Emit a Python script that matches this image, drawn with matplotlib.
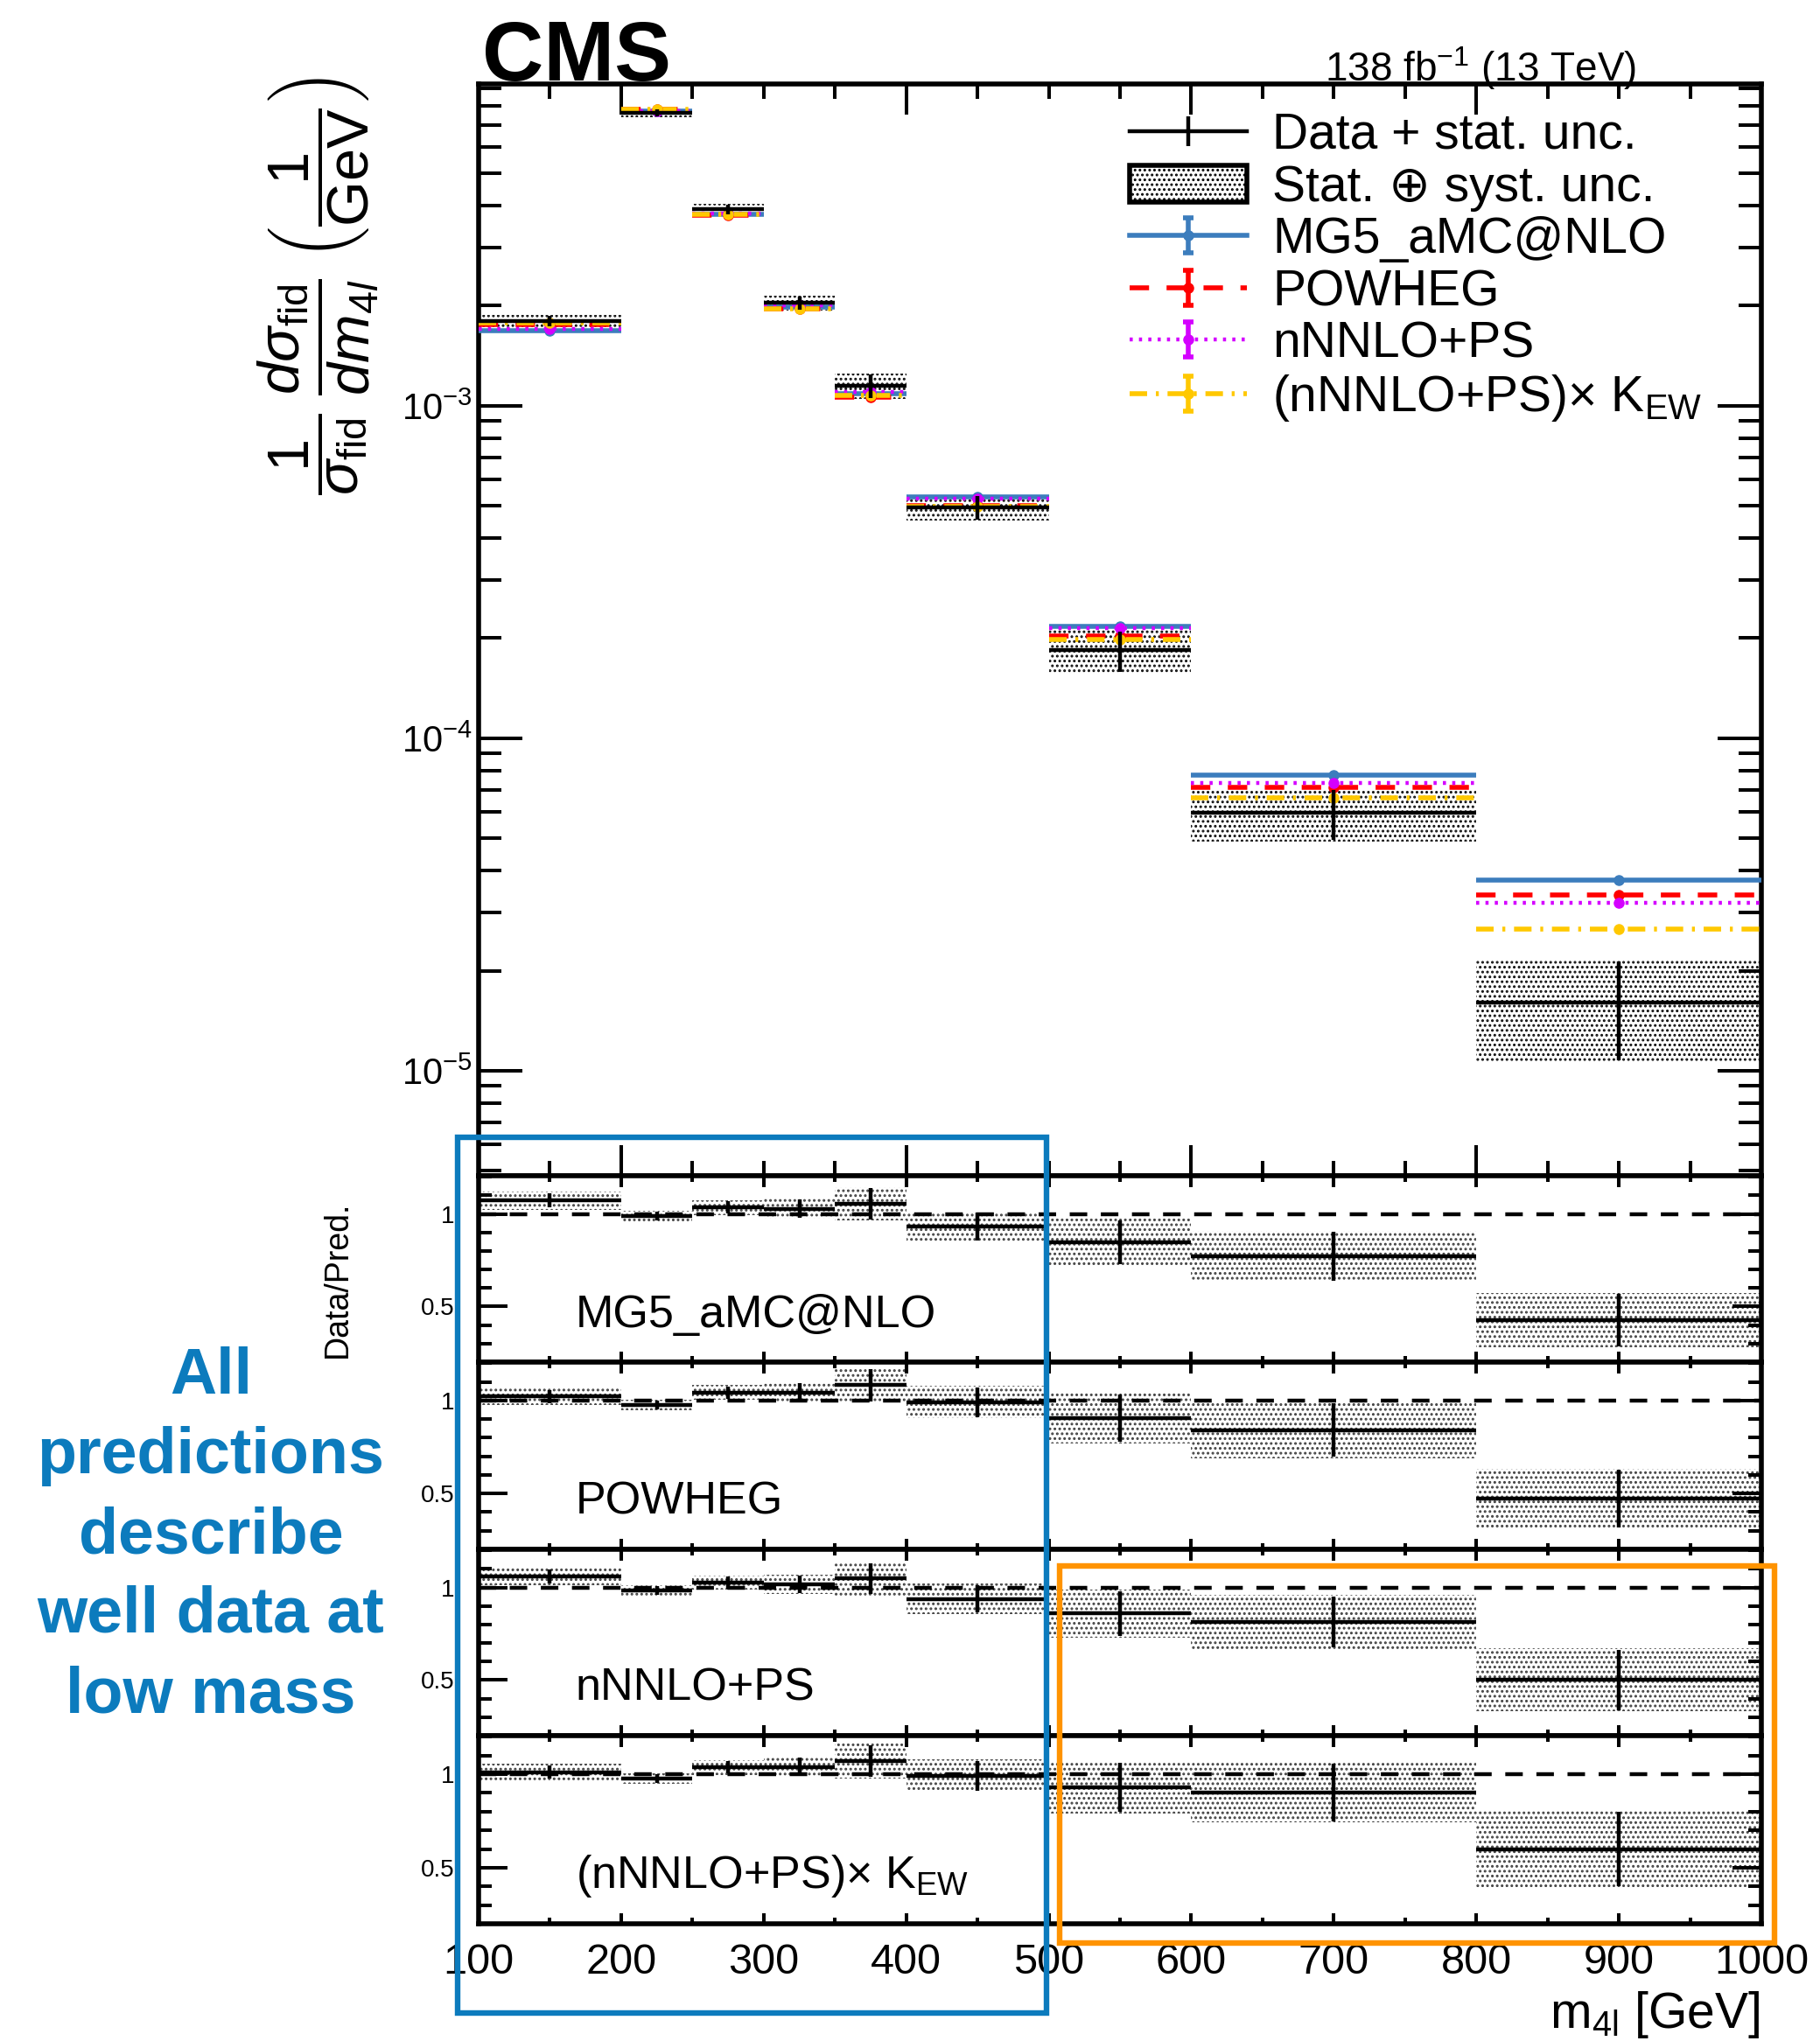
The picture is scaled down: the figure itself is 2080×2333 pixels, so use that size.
import numpy as np
import matplotlib
matplotlib.use('Agg')
import matplotlib.pyplot as plt
from matplotlib.lines import Line2D
from matplotlib.patches import Patch, Rectangle
from matplotlib.path import Path
import matplotlib.ticker as mt

plt.rcParams['font.family'] = ['Liberation Sans', 'DejaVu Sans']
plt.rcParams['mathtext.fontset'] = 'custom'
plt.rcParams['mathtext.rm'] = 'Liberation Sans'
plt.rcParams['mathtext.it'] = 'Liberation Sans:italic'
plt.rcParams['mathtext.bf'] = 'Liberation Sans:bold'
plt.rcParams['hatch.linewidth'] = 1.4

# ---------------- data ----------------
bin_edges = [100, 200, 250, 300, 350, 400, 500, 600, 800, 1000]
data_xs = [1.80e-3, 7.60e-3, 3.90e-3, 2.04e-3, 1.15e-3, 4.95e-4, 1.84e-4, 5.96e-5, 1.60e-5]
data_stat_rel = [0.035, 0.025, 0.032, 0.047, 0.080, 0.080, 0.140, 0.170, 0.330]
data_tot_rel = [0.045, 0.030, 0.038, 0.053, 0.087, 0.088, 0.150, 0.180, 0.340]

mg5_xs = [1.68e-3, 7.69e-3, 3.77e-3, 1.98e-3, 1.09e-3, 5.32e-4, 2.17e-4, 7.73e-5, 3.75e-5]
powheg_xs = [1.76e-3, 7.79e-3, 3.74e-3, 1.96e-3, 1.06e-3, 5.00e-4, 2.03e-4, 7.10e-5, 3.38e-5]
nnlo_xs = [1.70e-3, 7.72e-3, 3.80e-3, 2.01e-3, 1.10e-3, 5.27e-4, 2.14e-4, 7.32e-5, 3.20e-5]
nnlo_kew_xs = [1.78e-3, 7.78e-3, 3.76e-3, 1.96e-3, 1.075e-3, 4.99e-4, 1.98e-4, 6.60e-5, 2.67e-5]
pred_theo_rel = [0.02, 0.02, 0.02, 0.02, 0.02, 0.02, 0.02, 0.02, 0.02]

mg5_ratio = [1.072, 0.988, 1.034, 1.028, 1.055, 0.931, 0.848, 0.771, 0.427]
powheg_ratio = [1.021, 0.975, 1.042, 1.042, 1.083, 0.990, 0.906, 0.840, 0.473]
nnlo_ratio = [1.059, 0.985, 1.027, 1.017, 1.048, 0.939, 0.860, 0.814, 0.500]
nnlo_kew_ratio = [1.011, 0.977, 1.036, 1.039, 1.070, 0.992, 0.930, 0.903, 0.600]

pred_labels = ['MG5_aMC@NLO', 'POWHEG', 'nNNLO+PS', r'(nNNLO+PS)× K$_{\rm EW}$']
legend_labels = ['Data + stat. unc.', 'Stat. \u2295 syst. unc.'] + pred_labels
annotation_lines = ['All', 'predictions', 'describe', 'well data at', 'low mass']

# ---------------- styles ----------------
W, H = 2080, 2333
colors = ['#3c7dbd', '#ff0000', '#d400ff', '#ffc800']
styles = ['-', (0, (4, 3.6)), (0, (0.8, 1.6)), (0, (3.6, 1.8, 0.6, 1.8))]
lws = [4, 4, 3.2, 4]
blue_ann = '#0c7bbd'
orange_ann = '#ff9300'

fig = plt.figure(figsize=(W / 100, H / 100), dpi=100)

def fax(l, t, r, b):
    return fig.add_axes([l / W, 1 - b / H, (r - l) / W, (b - t) / H])

ax = fax(547, 96, 2013, 1344)
rtops = [1344, 1557, 1771, 1984, 2199]
rax = [fax(547, rtops[i], 2013, rtops[i + 1]) for i in range(4)]

lo = np.array(bin_edges[:-1], float)
hi = np.array(bin_edges[1:], float)
ctr = (lo + hi) / 2
hw = (hi - lo) / 2
data = np.array(data_xs)
srel = np.array(data_stat_rel)
trel = np.array(data_tot_rel)
preds = [np.array(mg5_xs), np.array(powheg_xs), np.array(nnlo_xs), np.array(nnlo_kew_xs)]
ratios = [np.array(mg5_ratio), np.array(powheg_ratio), np.array(nnlo_ratio), np.array(nnlo_kew_ratio)]
theo = np.array(pred_theo_rel)

# ---------------- main panel ----------------
ax.bar(ctr, 2 * data * trel, bottom=data * (1 - trel), width=hi - lo,
       facecolor='none', edgecolor='0.05', hatch='...', lw=0, zorder=1)
for vals, c, ls, lw in zip(preds, colors, styles, lws):
    ax.hlines(vals, lo, hi, colors=c, linestyles=ls, lw=lw, zorder=3)
    ax.errorbar(ctr, vals, yerr=vals * theo, fmt='o', color=c, ms=8, elinewidth=2.5,
                capsize=0, zorder=4)
ax.errorbar(ctr, data, xerr=hw, yerr=data * srel, fmt='none', ecolor='k',
            elinewidth=3.2, capsize=0, zorder=5)

ax.set_yscale('log')
ax.set_ylim(10 ** -5.316, 10 ** -2.032)
ax.set_xlim(100, 1000)
ax.yaxis.set_major_locator(mt.LogLocator(base=10, numticks=20))
ax.yaxis.set_minor_locator(mt.LogLocator(base=10, subs=np.arange(2, 10), numticks=20))
ax.yaxis.set_minor_formatter(mt.NullFormatter())
ax.xaxis.set_major_locator(mt.MultipleLocator(200))
ax.xaxis.set_minor_locator(mt.MultipleLocator(50))
ax.tick_params(axis='y', which='major', direction='in', length=36, width=2.9,
               left=True, right=True, labelsize=30, pad=5)
ax.tick_params(axis='y', which='minor', direction='in', length=18.5, width=2.9,
               left=True, right=True)
ax.tick_params(axis='x', which='major', direction='in', length=25, width=2.9,
               top=True, bottom=True, labelbottom=False)
ax.tick_params(axis='x', which='minor', direction='in', length=12, width=2.9,
               top=True, bottom=True)
for s in ax.spines.values():
    s.set_linewidth(4)

# legend
ebar_path = Path([(-0.3, -1), (0.3, -1), (0, -1), (0, 1), (-0.3, 1), (0.3, 1)],
                 [Path.MOVETO, Path.LINETO, Path.MOVETO, Path.LINETO, Path.MOVETO, Path.LINETO])
handles = [
    (Line2D([], [], color='k', lw=3.2),
     Line2D([], [], color='k', marker='|', ms=24, mew=3.2, ls='none')),
    Patch(facecolor='white', edgecolor='k', hatch='...', lw=4),
]
for c, ls, lw in zip(colors, styles, lws):
    handles.append((Line2D([], [], color=c, ls=ls, lw=lw),
                    Line2D([], [], color=c, marker=ebar_path, ms=29, mew=4,
                           mfc='none', ls='none'),
                    Line2D([], [], color=c, marker='o', ms=8, ls='none')))
ax.legend(handles, legend_labels, loc='upper left',
          bbox_to_anchor=(1291 / W, 1 - 128 / H), bbox_transform=fig.transFigure,
          frameon=False, fontsize=41, handlelength=2.35, handletextpad=0.52,
          labelspacing=0.1, borderpad=0, borderaxespad=0, handleheight=0.75)

# ---------------- ratio panels ----------------
for i, (rx, r, name) in enumerate(zip(rax, ratios, pred_labels)):
    rx.bar(ctr, 2 * r * trel, bottom=r * (1 - trel), width=hi - lo,
           facecolor='none', edgecolor='0.25', hatch='...', lw=0, zorder=1)
    rx.axhline(1, color='k', ls=(0, (4.5, 3.5)), lw=3.2, zorder=2)
    rx.errorbar(ctr, r, xerr=hw, yerr=r * srel, fmt='none', ecolor='k',
                elinewidth=3.2, capsize=0, zorder=5)
    rx.set_xlim(100, 1000)
    rx.set_ylim(0.2, 1.206)
    rx.text(0.0757, 0.19, name, transform=rx.transAxes, fontsize=37.5,
            ha='left', va='baseline')
    rx.yaxis.set_major_locator(mt.FixedLocator([0.5, 1.0]))
    rx.yaxis.set_major_formatter(mt.FixedFormatter(['0.5', '1']))
    rx.yaxis.set_minor_locator(mt.MultipleLocator(0.1))
    rx.xaxis.set_major_locator(mt.MultipleLocator(100))
    rx.xaxis.set_minor_locator(mt.MultipleLocator(50))
    rx.tick_params(axis='y', which='major', direction='in', length=24, width=2.9,
                   left=True, right=True, labelsize=20, pad=20)
    rx.tick_params(axis='y', which='minor', direction='in', length=11, width=2.9,
                   left=True, right=True)
    rx.tick_params(axis='x', which='major', direction='in', length=9, width=2.9,
                   top=True, bottom=True, labelbottom=(i == 3), labelsize=35, pad=16)
    rx.tick_params(axis='x', which='minor', direction='in', length=5, width=2.9,
                   top=True, bottom=True)
    for s in rx.spines.values():
        s.set_linewidth(4)

# ---------------- texts ----------------
fig.text(551 / W, 1 - 92 / H, 'CMS', fontsize=70, fontweight='bold',
         ha='left', va='baseline')
fig.text(1870 / W, 1 - 93 / H, r'138 fb$^{-1}$ (13 TeV)', fontsize=33,
         ha='right', va='baseline')
fig.text(364 / W, 1 - 327 / H,
         r'$\dfrac{1}{\sigma_{\rm fid}}\;\dfrac{d\sigma_{\rm fid}}{dm_{4l}}\;\left(\dfrac{1}{\rm GeV}\right)$',
         fontsize=48, rotation=90, ha='center', va='center')
fig.text(386 / W, 1 - 1462 / H, 'Data/Pred.', fontsize=27, rotation=90,
         ha='center', va='center')
fig.text(2011 / W, 1 - 2318 / H, r'm$_{\rm 4l}$ [GeV]', fontsize=41,
         ha='right', va='baseline')

# annotation
baselines = [1593, 1684, 1775, 1866, 1957]
for txt, yb in zip(annotation_lines, baselines):
    fig.text(241 / W, 1 - yb / H, txt, fontsize=53, fontweight='bold',
             color=blue_ann, ha='center', va='baseline')
fig.add_artist(Rectangle((523 / W, 1 - 2301 / H), (1196 - 523) / W, (2301 - 1300) / H,
                         transform=fig.transFigure, fill=False, ec=blue_ann, lw=4.6))
fig.add_artist(Rectangle((1211 / W, 1 - 2221 / H), (2028 - 1211) / W, (2221 - 1790) / H,
                         transform=fig.transFigure, fill=False, ec=orange_ann, lw=4.6))

fig.savefig('out.png', dpi=100)
